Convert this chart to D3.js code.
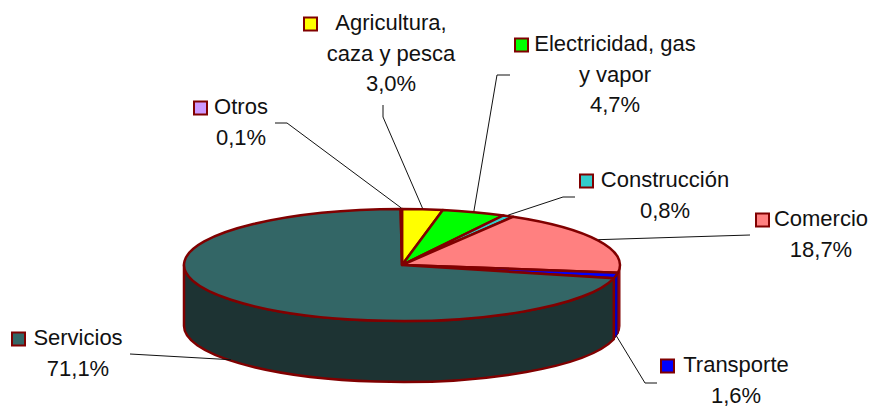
<!DOCTYPE html>
<html>
<head>
<meta charset="utf-8">
<script src="https://cdnjs.cloudflare.com/ajax/libs/d3/7.8.5/d3.min.js"></script>
<style>
html,body{margin:0;padding:0;background:#fff;}
svg{display:block;}
text{font-family:"Liberation Sans",Arial,sans-serif;font-size:22px;fill:#111;text-anchor:middle;}
</style>
</head>
<body>
<script>
// pie values, clockwise from 12 o'clock
var names=["Agricultura","Electricidad","Construcción","Comercio","Transporte","Servicios","Otros"];
var values=[3.0,4.7,0.8,18.7,1.6,71.1,0.1];
var colors=["#ffff00","#00ff00","#33cccc","#ff8080","#0000ff","#336666","#cc99ff"];
var wallColors=["#808000","#008000","#1a6666","#a81020","#0000c0","#1d3333","#664c80"];
var labelLines=[
  ["Agricultura,","caza y pesca","3,0%"],
  ["Electricidad, gas","y vapor","4,7%"],
  ["Construcción","0,8%"],
  ["Comercio","18,7%"],
  ["Transporte","1,6%"],
  ["Servicios","71,1%"],
  ["Otros","0,1%"]
];

// label layout: center x, first baseline, swatch x
var labelX=[391,615,665,821,736,78,241];
var labelY=[30,51,187,226,372,345,114];
var swatchX=[304,515,580,756,661,12,194];
// leader: elbow points from label to slice
var leaders=[
  [[383,105],[383,117]],
  [[510,75],[497,75]],
  [[575,197],[563,197]],
  [[750,235],[750,235]],
  [[657,383],[645,383]],
  [[130,354],[130,354]],
  [[275,123],[287,123]]
];

var width=871,height=406;
var cx=402,cy=265,rx=218,ry=56,depth=61;
var lineGap=30.5,sw=13;

var svg=d3.select("body").append("svg").attr("width",width).attr("height",height);

var pie=d3.pie().sort(null).value(function(d){return d;});
var slices=pie(values);

function px(a){return cx+rx*Math.sin(a);}
function py(a){return cy-ry*Math.cos(a);}

// side wall, only the part facing the viewer
function wall(a0,a1){
  var s=Math.max(a0,Math.PI/2),e=Math.min(a1,Math.PI*1.5);
  if(e<=s) return null;
  return "M"+px(s)+","+py(s)+
    "A"+rx+","+ry+" 0 0 1 "+px(e)+","+py(e)+
    "L"+px(e)+","+(py(e)+depth)+
    "A"+rx+","+ry+" 0 0 0 "+px(s)+","+(py(s)+depth)+"Z";
}

svg.append("g").selectAll("path").data(slices).enter().append("path")
  .attr("d",function(d){return wall(d.startAngle,d.endAngle);})
  .attr("fill",function(d,i){return wallColors[i];})
  .attr("stroke","#800000")
  .attr("stroke-width",function(d){return d.value>50?2.5:1;})
  .attr("stroke-linejoin","round");

var arc=d3.arc().innerRadius(0).outerRadius(rx);
svg.append("g").attr("transform","translate("+cx+","+cy+") scale(1,"+(ry/rx)+")")
  .selectAll("path").data(slices).enter().append("path")
  .attr("d",arc)
  .attr("fill",function(d,i){return colors[i];})
  .attr("stroke","#800000").attr("stroke-width",2.5).attr("stroke-linejoin","round")
  .attr("vector-effect","non-scaling-stroke");

// leader lines end on the slice's mid angle
var line=d3.line();
svg.append("g").selectAll("path").data(slices).enter().append("path")
  .attr("d",function(d,i){
    var mid=(d.startAngle+d.endAngle)/2;
    var onWall=mid>Math.PI/2&&mid<Math.PI*1.5;
    var end=[px(mid),py(mid)+(onWall?depth:0)-1];
    return line(leaders[i].concat([end]));
  })
  .attr("fill","none").attr("stroke","#111").attr("stroke-width",1);

// labels with legend key
var lab=svg.append("g").selectAll("g").data(labelLines).enter().append("g");
lab.each(function(lines,i){
  var g=d3.select(this);
  lines.forEach(function(t,j){
    g.append("text").attr("x",labelX[i]).attr("y",labelY[i]+j*lineGap).text(t);
  });
  g.append("rect").attr("x",swatchX[i]).attr("y",labelY[i]-12.5).attr("width",sw).attr("height",sw)
    .attr("fill",colors[i]).attr("stroke","#800000").attr("stroke-width",2);
});
</script>
</body>
</html>
